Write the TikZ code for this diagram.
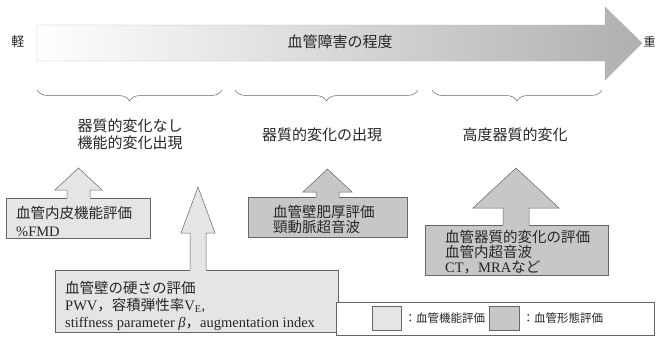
\documentclass[tikz,border=0pt]{standalone}
\usepackage{fontspec}
\setmainfont{Liberation Serif}
\newfontfamily\jp{Noto Sans CJK JP}
\newcommand\J[1]{{\jp #1}}
\usetikzlibrary{decorations.pathreplacing}
\definecolor{lightfill}{gray}{0.90}
\definecolor{darkfill}{gray}{0.78}
\definecolor{edge}{gray}{0.40}
\definecolor{ink}{gray}{0.15}
\tikzset{
  boxshape/.style={draw=edge, line width=0.5pt, rectangle, inner sep=0pt, anchor=north west},
  lightbox/.style={boxshape, fill=lightfill},
  darkbox/.style={boxshape, fill=darkfill},
  boxtext/.style={anchor=west, align=left, inner sep=0pt, text=ink, font=\fontsize{14.5}{17}\selectfont},
  stagelabel/.style={align=center, inner sep=0pt, text=ink, font=\jp\fontsize{15}{17}\selectfont},
  bracestyle/.style={draw=edge, line width=0.5pt, decorate, decoration={brace, mirror, amplitude=11pt}},
  arrowedge/.style={draw=edge, line width=0.5pt, line join=miter},
  legendtext/.style={anchor=west, inner sep=0pt, text=ink, font=\jp\fontsize{11.5}{13}\selectfont},
}
\begin{document}
\begin{tikzpicture}[x=1pt, y=-1pt]
\useasboundingbox (0,0) rectangle (656,340);

% big gradient arrow
\shade[left color=white, right color=gray!62, draw=gray!60, line width=0.4pt]
  (37,25) -- (605,25) -- (605,7) -- (642,43) -- (605,80) -- (605,61) -- (37,61) -- cycle;
\node[text=ink, inner sep=0pt, font=\jp\fontsize{13}{15}\selectfont] (light) at (18,42) {軽};
\node[text=ink, inner sep=0pt, anchor=west, font=\jp\fontsize{12}{14}\selectfont] (heavy) at (643.5,42) {重};
\node[text=ink, inner sep=0pt, font=\jp\fontsize{15}{17}\selectfont] (title) at (340,42) {血管障害の程度};

% braces
\coordinate (b1l) at (37,90);  \coordinate (b1r) at (222,90);
\coordinate (b2l) at (235,90); \coordinate (b2r) at (418,90);
\coordinate (b3l) at (432,90); \coordinate (b3r) at (602,90);
\draw[bracestyle] (b1l) -- (b1r);
\draw[bracestyle] (b2l) -- (b2r);
\draw[bracestyle] (b3l) -- (b3r);

% stage labels
\node[stagelabel] (s1) at (130,134) {器質的変化なし\\機能的変化出現};
\node[stagelabel] (s2) at (322,135) {器質的変化の出現};
\node[stagelabel] (s3) at (515,135) {高度器質的変化};

% boxes
\node[lightbox, minimum width=144pt, minimum height=40pt] (box1) at (6,198) {};
\node[lightbox, minimum width=283pt, minimum height=62pt] (box2) at (55,270) {};
\node[darkbox, minimum width=159pt, minimum height=40pt] (box3) at (248,197) {};
\node[darkbox, minimum width=183pt, minimum height=50pt] (box4) at (425,225) {};

% block arrows (tip x, tip y, head base y, head half width, shaft half width, box top)
\newcommand\blockarrow[7]{%
  \fill[#7] (#1-#5,#6+1) -- (#1-#5,#3) -- (#1-#4,#3) -- (#1,#2) -- (#1+#4,#3) -- (#1+#5,#3) -- (#1+#5,#6+1) -- cycle;
  \draw[arrowedge] (#1-#5,#6) -- (#1-#5,#3) -- (#1-#4,#3) -- (#1,#2) -- (#1+#4,#3) -- (#1+#5,#3) -- (#1+#5,#6);
}
\blockarrow{78.5}{168}{190}{23.5}{11.5}{198}{lightfill}
\blockarrow{198}{187}{233}{17}{8}{270}{lightfill}
\blockarrow{327.5}{169}{192}{24.5}{11.5}{197}{darkfill}
\blockarrow{516}{168}{208}{43}{13}{225}{darkfill}

% box texts
\node[boxtext, font=\fontsize{14.5}{18}\selectfont] (t1) at (16,221) {\J{血管内皮機能評価}\\\%FMD};
\node[boxtext] (t2) at (65,305.5) {\J{血管壁の硬さの評価}\\PWV\J{，容積弾性率}V\textsubscript{E},\\stiffness parameter \textit{β}\J{，}augmentation index};
\node[boxtext, font=\fontsize{14.5}{15}\selectfont] (t3) at (273,219.5) {\J{血管壁肥厚評価}\\\J{頸動脈超音波}};
\node[boxtext, font=\fontsize{14.5}{15}\selectfont] (t4) at (445,252) {\J{血管器質的変化の評価}\\\J{血管内超音波}\\CT\J{，}MRA\J{など}};

% legend
\node[boxshape, fill=white, minimum width=318pt, minimum height=33pt] (legend) at (336,302) {};
\node[lightbox, minimum width=29pt, minimum height=24pt] (sw1) at (372,306) {};
\node[darkbox, minimum width=30pt, minimum height=24pt] (sw2) at (489,306) {};
\node[legendtext] (lt1) at ([xshift=3pt]sw1.east) {：血管機能評価};
\node[legendtext] (lt2) at ([xshift=3pt]sw2.east) {：血管形態評価};
\end{tikzpicture}
\end{document}
